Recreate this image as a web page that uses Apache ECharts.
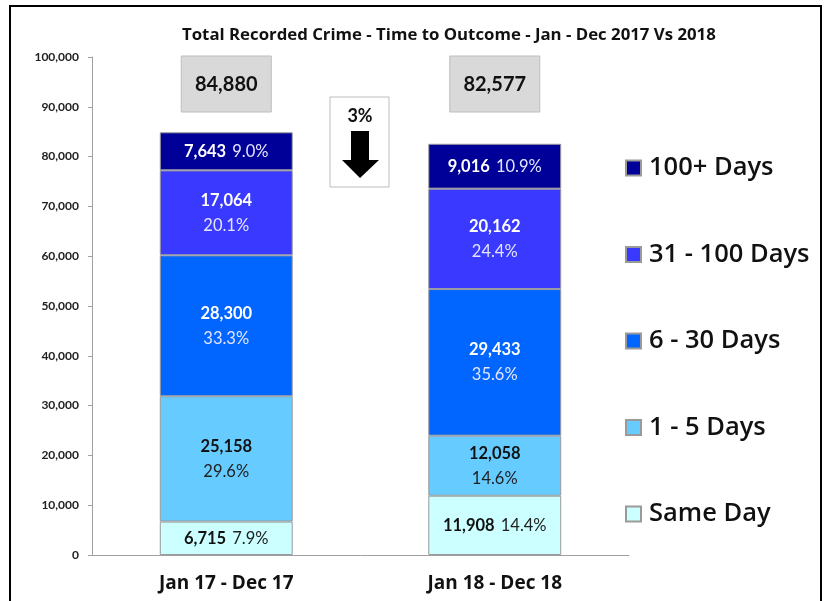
<!DOCTYPE html>
<html>
<head>
<meta charset="utf-8">
<script src="https://cdn.jsdelivr.net/npm/echarts@6/dist/echarts.min.js"></script>
<style>
  html, body { margin: 0; padding: 0; background: #fff; }
  #chart { width: 827px; height: 601px; }
</style>
</head>
<body>
<div id="chart"></div>
<script>
// data
const periods = ['Jan 17 - Dec 17', 'Jan 18 - Dec 18'];
const sameDay = [6715, 11908];
const days1to5 = [25158, 12058];
const days6to30 = [28300, 29433];
const days31to100 = [17064, 20162];
const days100plus = [7643, 9016];

const FONT = 'Lato, "Open Sans", sans-serif';
const WIDE = '"Open Sans", Lato, sans-serif';

const totals = periods.map((p, i) =>
  sameDay[i] + days1to5[i] + days6to30[i] + days31to100[i] + days100plus[i]);

function fmt(n) {
  return String(n).replace(/\B(?=(\d{3})+(?!\d))/g, ',');
}

function makeSeries(name, data, color, txt, pctColor, oneLine) {
  return {
    name: name,
    type: 'bar',
    stack: 'all',
    barWidth: '49.5%',
    data: data,
    itemStyle: { color: color, borderColor: '#9a9a9a', borderWidth: 1 },
    label: {
      show: true,
      position: 'inside',
      fontFamily: FONT,
      formatter: function (p) {
        var pct = (p.value / totals[p.dataIndex] * 100).toFixed(1) + '%';
        return oneLine ? '{v|' + fmt(p.value) + '}  {p|' + pct + '}'
                       : '{v|' + fmt(p.value) + '}\n{p|' + pct + '}';
      },
      rich: {
        v: { fontFamily: FONT, fontWeight: 'bold', fontSize: 16.5, color: txt, lineHeight: 25 },
        p: { fontFamily: FONT, fontSize: 16.5, color: pctColor, lineHeight: 25 }
      }
    },
    emphasis: { disabled: true }
  };
}

var chart = echarts.init(document.getElementById('chart'));

var option = {
  animation: false,
  backgroundColor: '#fff',
  title: {
    text: 'Total Recorded Crime - Time to Outcome - Jan - Dec 2017 Vs 2018',
    left: 177,
    top: 22,
    textStyle: { fontFamily: WIDE, fontSize: 16.8, fontWeight: 'bold', color: '#111' }
  },
  grid: { left: 92, right: 198, top: 57, bottom: 46 },
  legend: {
    orient: 'vertical',
    left: 620,
    top: 148,
    icon: 'rect',
    itemWidth: 15,
    itemHeight: 15,
    itemGap: 56.5,
    data: ['100+ Days', '31 - 100 Days', '6 - 30 Days', '1 - 5 Days', 'Same Day'],
    textStyle: { fontFamily: WIDE, fontSize: 25.5, fontWeight: 600, color: '#111', lineHeight: 30, padding: [0, 0, 0, 3] }
  },
  xAxis: {
    type: 'category',
    data: periods,
    axisLine: { lineStyle: { color: '#a0a0a0' } },
    axisTick: { show: false },
    axisLabel: { fontFamily: WIDE, fontSize: 19, fontWeight: 'bold', color: '#111', margin: 19 }
  },
  yAxis: {
    type: 'value',
    min: 0,
    max: 100000,
    interval: 10000,
    splitLine: { show: false },
    axisLine: { show: true, lineStyle: { color: '#a0a0a0' } },
    axisTick: { show: true, length: 4, lineStyle: { color: '#a0a0a0' } },
    axisLabel: {
      fontFamily: FONT, fontSize: 12, fontWeight: 'bold', color: '#222', margin: 13,
      formatter: function (v) { return fmt(v); }
    }
  },
  series: [
    makeSeries('Same Day', sameDay, '#CCFFFF', '#111', '#222', true),
    makeSeries('1 - 5 Days', days1to5, '#66CCFF', '#111', '#222', false),
    makeSeries('6 - 30 Days', days6to30, '#0066FF', '#fff', '#e4e4ff', false),
    makeSeries('31 - 100 Days', days31to100, '#3939FF', '#fff', '#e4e4ff', false),
    makeSeries('100+ Days', days100plus, '#000099', '#fff', '#e4e4ff', true)
  ]
};
chart.setOption(option);

// annotations: totals boxes, change box, frame
var change = Math.round((totals[0] - totals[1]) / totals[0] * 100);
var graphics = [
  {
    type: 'rect',
    shape: { x: 10, y: 6, width: 811, height: 620 },
    style: { fill: 'none', stroke: '#000', lineWidth: 2 },
    silent: true
  }
];
periods.forEach(function (p, i) {
  var cx = chart.convertToPixel({ xAxisIndex: 0 }, p);
  graphics.push({
    type: 'rect',
    shape: { x: cx - 45, y: 56, width: 90, height: 56 },
    style: { fill: '#D9D9D9', stroke: '#BDBDBD', lineWidth: 1 }
  });
  graphics.push({
    type: 'text',
    x: cx, y: 85,
    style: {
      text: fmt(totals[i]), fontFamily: FONT, fontSize: 20, fontWeight: 'bold',
      fill: '#111', align: 'center', verticalAlign: 'middle'
    }
  });
});
graphics.push({
  type: 'rect',
  shape: { x: 330, y: 97, width: 59, height: 90 },
  style: { fill: '#fff', stroke: '#BDBDBD', lineWidth: 1 }
});
graphics.push({
  type: 'text',
  x: 360, y: 116,
  style: {
    text: change + '%', fontFamily: FONT, fontSize: 18, fontWeight: 'bold',
    fill: '#111', align: 'center', verticalAlign: 'middle'
  }
});
graphics.push({
  type: 'polygon',
  shape: { points: [[351, 131], [369, 131], [369, 160], [379, 160], [360, 178], [342, 160], [351, 160]] },
  style: { fill: '#000' }
});
chart.setOption({ graphic: graphics });
</script>
</body>
</html>
